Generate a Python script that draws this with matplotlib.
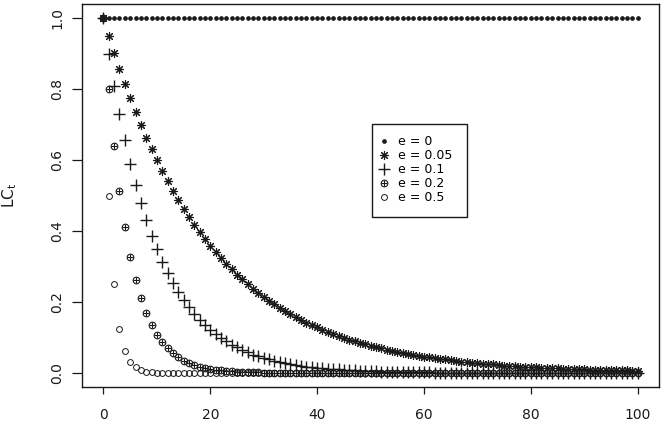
import matplotlib

matplotlib.use("Agg")
import matplotlib.pyplot as plt
from matplotlib.legend_handler import HandlerTuple
from matplotlib.patches import Rectangle

plt.rcParams["font.family"] = ["DejaVu Sans"]
plt.rcParams["mathtext.default"] = "regular"

# time steps 0..100
t = list(range(101))

# LC_t, one list per series
lc_e0 = [1.0] * 101

lc_e005 = [
    1.000, 0.950, 0.902, 0.857, 0.815, 0.774, 0.735, 0.698, 0.663, 0.630,
    0.599, 0.569, 0.540, 0.513, 0.488, 0.463, 0.440, 0.418, 0.397, 0.377,
    0.358, 0.341, 0.324, 0.307, 0.292, 0.277, 0.264, 0.250, 0.238, 0.226,
    0.215, 0.204, 0.194, 0.184, 0.175, 0.166, 0.158, 0.150, 0.142, 0.135,
    0.129, 0.122, 0.116, 0.110, 0.105, 0.099, 0.094, 0.090, 0.085, 0.081,
    0.077, 0.073, 0.069, 0.066, 0.063, 0.060, 0.057, 0.054, 0.051, 0.048,
    0.046, 0.044, 0.042, 0.039, 0.038, 0.036, 0.034, 0.032, 0.031, 0.029,
    0.028, 0.026, 0.025, 0.024, 0.023, 0.021, 0.020, 0.019, 0.018, 0.017,
    0.017, 0.016, 0.015, 0.014, 0.013, 0.013, 0.012, 0.012, 0.011, 0.010,
    0.010, 0.009, 0.009, 0.008, 0.008, 0.008, 0.007, 0.007, 0.007, 0.006,
    0.006,
]

lc_e01 = [
    1.000, 0.900, 0.810, 0.729, 0.656, 0.590, 0.531, 0.478, 0.430, 0.387,
    0.349, 0.314, 0.282, 0.254, 0.229, 0.206, 0.185, 0.167, 0.150, 0.135,
    0.122, 0.109, 0.098, 0.089, 0.080, 0.072, 0.064, 0.058, 0.052, 0.047,
    0.042, 0.038, 0.034, 0.031, 0.028, 0.025, 0.023, 0.020, 0.018, 0.016,
    0.015, 0.013, 0.012, 0.011, 0.010, 0.009, 0.008, 0.007, 0.006, 0.006,
    0.005, 0.005, 0.004, 0.004, 0.003, 0.003, 0.003, 0.002, 0.002, 0.002,
    0.002, 0.002, 0.001, 0.001, 0.001, 0.001, 0.001, 0.001, 0.001, 0.001,
    0.001, 0.000, 0.000, 0.000, 0.000, 0.000, 0.000, 0.000, 0.000, 0.000,
    0.000, 0.000, 0.000, 0.000, 0.000, 0.000, 0.000, 0.000, 0.000, 0.000,
    0.000, 0.000, 0.000, 0.000, 0.000, 0.000, 0.000, 0.000, 0.000, 0.000,
    0.000,
]

lc_e02 = [
    1.000, 0.800, 0.640, 0.512, 0.410, 0.328, 0.262, 0.210, 0.168, 0.134,
    0.107, 0.086, 0.069, 0.055, 0.044, 0.035, 0.028, 0.023, 0.018, 0.014,
    0.012, 0.009, 0.007, 0.006, 0.005, 0.004, 0.003, 0.002, 0.002, 0.002,
    0.001, 0.001, 0.001, 0.001, 0.000, 0.000, 0.000, 0.000, 0.000, 0.000,
    0.000, 0.000, 0.000, 0.000, 0.000, 0.000, 0.000, 0.000, 0.000, 0.000,
    0.000, 0.000, 0.000, 0.000, 0.000, 0.000, 0.000, 0.000, 0.000, 0.000,
    0.000, 0.000, 0.000, 0.000, 0.000, 0.000, 0.000, 0.000, 0.000, 0.000,
    0.000, 0.000, 0.000, 0.000, 0.000, 0.000, 0.000, 0.000, 0.000, 0.000,
    0.000, 0.000, 0.000, 0.000, 0.000, 0.000, 0.000, 0.000, 0.000, 0.000,
    0.000, 0.000, 0.000, 0.000, 0.000, 0.000, 0.000, 0.000, 0.000, 0.000,
    0.000,
]

lc_e05 = [
    1.000, 0.500, 0.250, 0.125, 0.063, 0.031, 0.016, 0.008, 0.004, 0.002,
    0.001, 0.000, 0.000, 0.000, 0.000, 0.000, 0.000, 0.000, 0.000, 0.000,
    0.000, 0.000, 0.000, 0.000, 0.000, 0.000, 0.000, 0.000, 0.000, 0.000,
    0.000, 0.000, 0.000, 0.000, 0.000, 0.000, 0.000, 0.000, 0.000, 0.000,
    0.000, 0.000, 0.000, 0.000, 0.000, 0.000, 0.000, 0.000, 0.000, 0.000,
    0.000, 0.000, 0.000, 0.000, 0.000, 0.000, 0.000, 0.000, 0.000, 0.000,
    0.000, 0.000, 0.000, 0.000, 0.000, 0.000, 0.000, 0.000, 0.000, 0.000,
    0.000, 0.000, 0.000, 0.000, 0.000, 0.000, 0.000, 0.000, 0.000, 0.000,
    0.000, 0.000, 0.000, 0.000, 0.000, 0.000, 0.000, 0.000, 0.000, 0.000,
    0.000, 0.000, 0.000, 0.000, 0.000, 0.000, 0.000, 0.000, 0.000, 0.000,
    0.000,
]

labels = ["e = 0", "e = 0.05", "e = 0.1", "e = 0.2", "e = 0.5"]
x_ticks = [0, 20, 40, 60, 80, 100]
y_ticks = [0.0, 0.2, 0.4, 0.6, 0.8, 1.0]

fig = plt.figure(figsize=(6.62, 4.36), dpi=100)
ax = fig.add_axes([0.124, 0.112, 0.8715, 0.879])

ink = "#1a1a1a"
h0, = ax.plot(t, lc_e0, ls="none", marker="o", ms=2.8, mfc=ink, mec=ink, mew=0.5)
h1, = ax.plot(t, lc_e005, ls="none", marker=(8, 2, 0), ms=6.5, mec=ink, mew=0.8)
h2, = ax.plot(t, lc_e01, ls="none", marker="+", ms=8, mec=ink, mew=1.0)
# circle with a plus inside
h3a, = ax.plot(t, lc_e02, ls="none", marker="o", ms=4.8, mfc="none", mec=ink, mew=0.8)
h3b, = ax.plot(t, lc_e02, ls="none", marker="+", ms=4.8, mec=ink, mew=0.8)
h4, = ax.plot(t, lc_e05, ls="none", marker="o", ms=4.2, mfc="none", mec=ink, mew=0.7)

ax.set_xlim(-4, 104)
ax.set_ylim(-0.04, 1.04)
ax.set_xticks(x_ticks)
ax.set_yticks(y_ticks)
ax.set_xticklabels([str(v) for v in x_ticks])
ax.set_yticklabels([f"{v:.1f}" for v in y_ticks], rotation=90, va="center")
ax.tick_params(axis="x", length=5, width=0.9, labelsize=10, pad=10, colors=ink)
ax.tick_params(axis="y", length=7, width=0.9, labelsize=10, pad=6, colors=ink)
for s in ax.spines.values():
    s.set_linewidth(1.0)
    s.set_color(ink)

ax.set_ylabel("LC$_t$", fontsize=11, color=ink)
ax.yaxis.set_label_coords(-0.11, 0.5)

leg = ax.legend(
    [h0, h1, h2, (h3a, h3b), h4],
    labels,
    handler_map={tuple: HandlerTuple(ndivide=1, pad=0)},
    loc="center left",
    bbox_to_anchor=(0.513, 0.568),
    fontsize=9,
    frameon=False,
    handlelength=1.0,
    handletextpad=0.6,
    labelspacing=0.08,
    borderpad=0.0,
    borderaxespad=0.0,
)
# legend box drawn separately so it keeps the wide right margin of the original
ax.add_patch(Rectangle((0.5026, 0.4439), 0.1646, 0.2428, transform=ax.transAxes,
                       fill=False, edgecolor=ink, linewidth=1.0, zorder=5))

fig.savefig("out.png", dpi=100)
